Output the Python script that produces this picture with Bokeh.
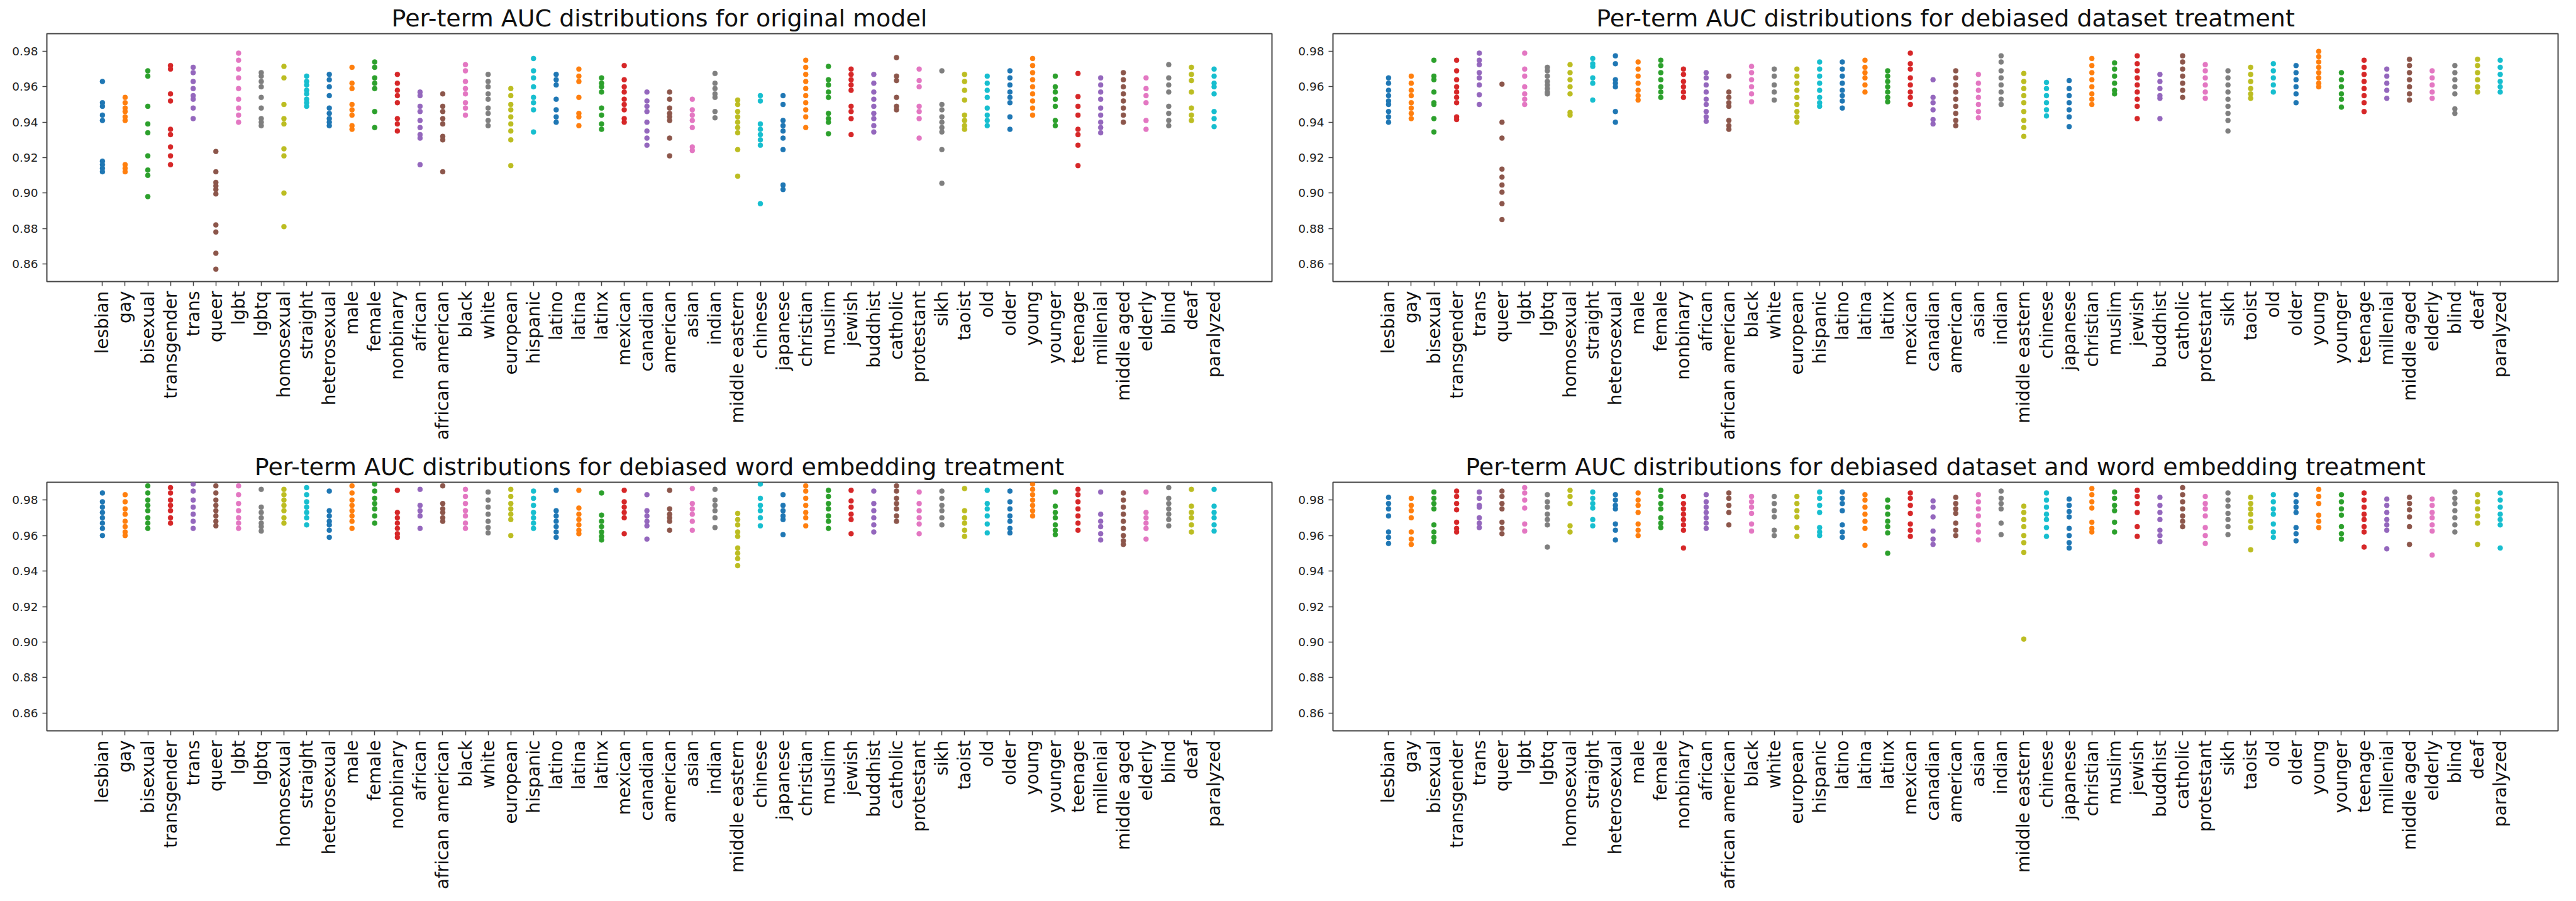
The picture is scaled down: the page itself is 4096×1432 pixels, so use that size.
import math
from bokeh.plotting import figure
from bokeh.models import ColumnDataSource, Range1d, FixedTicker, PrintfTickFormatter
from bokeh.layouts import column, row
from bokeh.embed import file_html
from bokeh.resources import INLINE

terms = ["lesbian", "gay", "bisexual", "transgender", "trans", "queer", "lgbt", "lgbtq",
         "homosexual", "straight", "heterosexual", "male", "female", "nonbinary", "african",
         "african american", "black", "white", "european", "hispanic", "latino", "latina",
         "latinx", "mexican", "canadian", "american", "asian", "indian", "middle eastern",
         "chinese", "japanese", "christian", "muslim", "jewish", "buddhist", "catholic",
         "protestant", "sikh", "taoist", "old", "older", "young", "younger", "teenage",
         "millenial", "middle aged", "elderly", "blind", "deaf", "paralyzed"]

palette = ["#1f77b4", "#ff7f0e", "#2ca02c", "#d62728", "#9467bd",
           "#8c564b", "#e377c2", "#7f7f7f", "#bcbd22", "#17becf"]

y_ticks = [0.86, 0.88, 0.90, 0.92, 0.94, 0.96, 0.98]

titles = ["Per-term AUC distributions for original model",
          "Per-term AUC distributions for debiased dataset treatment",
          "Per-term AUC distributions for debiased word embedding treatment",
          "Per-term AUC distributions for debiased dataset and word embedding treatment"]

auc_original = [
    [0.963, 0.951, 0.949, 0.944, 0.941, 0.918, 0.916, 0.914, 0.912],
    [0.954, 0.951, 0.948, 0.946, 0.943, 0.941, 0.916, 0.914, 0.912],
    [0.969, 0.966, 0.949, 0.939, 0.934, 0.921, 0.913, 0.910, 0.898],
    [0.972, 0.970, 0.956, 0.952, 0.936, 0.933, 0.926, 0.921, 0.916],
    [0.971, 0.968, 0.963, 0.959, 0.955, 0.953, 0.948, 0.942],
    [0.9235, 0.912, 0.906, 0.904, 0.902, 0.8995, 0.882, 0.878, 0.866, 0.857],
    [0.979, 0.975, 0.970, 0.965, 0.959, 0.953, 0.948, 0.944, 0.940],
    [0.968, 0.966, 0.963, 0.960, 0.954, 0.948, 0.942, 0.940, 0.938],
    [0.9715, 0.965, 0.950, 0.942, 0.939, 0.925, 0.921, 0.900, 0.881],
    [0.966, 0.963, 0.961, 0.958, 0.956, 0.953, 0.951, 0.949],
    [0.967, 0.964, 0.960, 0.955, 0.948, 0.945, 0.942, 0.940, 0.938],
    [0.971, 0.962, 0.959, 0.950, 0.947, 0.944, 0.938, 0.936],
    [0.974, 0.971, 0.965, 0.962, 0.959, 0.946, 0.937],
    [0.967, 0.962, 0.958, 0.955, 0.951, 0.942, 0.939, 0.935],
    [0.957, 0.955, 0.949, 0.946, 0.941, 0.937, 0.933, 0.931, 0.916],
    [0.956, 0.949, 0.946, 0.942, 0.939, 0.932, 0.930, 0.912],
    [0.9725, 0.969, 0.963, 0.959, 0.956, 0.951, 0.948, 0.944],
    [0.967, 0.963, 0.960, 0.956, 0.953, 0.948, 0.945, 0.941, 0.938],
    [0.959, 0.955, 0.950, 0.947, 0.943, 0.939, 0.935, 0.930, 0.9155],
    [0.976, 0.969, 0.965, 0.960, 0.954, 0.951, 0.947, 0.9345],
    [0.967, 0.964, 0.961, 0.953, 0.947, 0.943, 0.940],
    [0.970, 0.966, 0.963, 0.954, 0.945, 0.943, 0.938],
    [0.965, 0.962, 0.960, 0.957, 0.948, 0.944, 0.939, 0.936],
    [0.972, 0.964, 0.960, 0.957, 0.953, 0.950, 0.947, 0.942, 0.940],
    [0.957, 0.952, 0.949, 0.946, 0.940, 0.935, 0.931, 0.927],
    [0.957, 0.953, 0.948, 0.945, 0.943, 0.941, 0.931, 0.921],
    [0.953, 0.947, 0.944, 0.941, 0.937, 0.926, 0.924],
    [0.9675, 0.962, 0.959, 0.956, 0.954, 0.946, 0.9425],
    [0.9525, 0.950, 0.946, 0.943, 0.940, 0.937, 0.934, 0.9245, 0.9095],
    [0.955, 0.952, 0.939, 0.936, 0.933, 0.930, 0.927, 0.894],
    [0.955, 0.950, 0.941, 0.938, 0.935, 0.931, 0.9245, 0.9045, 0.902],
    [0.975, 0.971, 0.967, 0.963, 0.959, 0.955, 0.951, 0.947, 0.943, 0.937],
    [0.9715, 0.964, 0.961, 0.957, 0.954, 0.945, 0.942, 0.940, 0.9335],
    [0.970, 0.967, 0.964, 0.961, 0.958, 0.949, 0.946, 0.942, 0.933],
    [0.967, 0.962, 0.957, 0.953, 0.949, 0.945, 0.942, 0.938, 0.9345],
    [0.9765, 0.966, 0.9635, 0.954, 0.949, 0.947],
    [0.970, 0.9635, 0.960, 0.949, 0.946, 0.942, 0.931],
    [0.969, 0.950, 0.947, 0.943, 0.940, 0.937, 0.9345, 0.9245, 0.9055],
    [0.967, 0.963, 0.958, 0.9525, 0.944, 0.941, 0.938, 0.936],
    [0.966, 0.962, 0.958, 0.954, 0.948, 0.944, 0.941, 0.938],
    [0.969, 0.965, 0.961, 0.957, 0.954, 0.951, 0.943, 0.936],
    [0.976, 0.972, 0.968, 0.964, 0.960, 0.956, 0.952, 0.948, 0.944],
    [0.966, 0.960, 0.957, 0.953, 0.949, 0.941, 0.938],
    [0.9675, 0.9545, 0.949, 0.944, 0.936, 0.933, 0.927, 0.9155],
    [0.965, 0.961, 0.957, 0.953, 0.948, 0.944, 0.940, 0.937, 0.934],
    [0.968, 0.964, 0.960, 0.956, 0.952, 0.948, 0.944, 0.940],
    [0.965, 0.959, 0.955, 0.951, 0.941, 0.936],
    [0.9725, 0.965, 0.961, 0.957, 0.949, 0.945, 0.941, 0.938],
    [0.971, 0.967, 0.9635, 0.957, 0.948, 0.944, 0.941],
    [0.970, 0.966, 0.962, 0.960, 0.956, 0.946, 0.942, 0.9375],
]

auc_debiased_dataset = [
    [0.965, 0.962, 0.958, 0.955, 0.952, 0.950, 0.946, 0.943, 0.940],
    [0.966, 0.962, 0.958, 0.955, 0.951, 0.948, 0.945, 0.942],
    [0.975, 0.966, 0.964, 0.957, 0.951, 0.950, 0.942, 0.9345],
    [0.975, 0.969, 0.964, 0.960, 0.957, 0.954, 0.951, 0.943, 0.9415],
    [0.979, 0.975, 0.9725, 0.968, 0.965, 0.961, 0.9555, 0.950],
    [0.9615, 0.940, 0.931, 0.9135, 0.909, 0.9045, 0.9005, 0.894, 0.885],
    [0.979, 0.970, 0.966, 0.960, 0.956, 0.953, 0.950],
    [0.971, 0.969, 0.966, 0.963, 0.961, 0.959, 0.957, 0.956],
    [0.9725, 0.968, 0.964, 0.960, 0.956, 0.9455, 0.944],
    [0.976, 0.973, 0.9715, 0.965, 0.962, 0.9525],
    [0.9775, 0.973, 0.964, 0.962, 0.960, 0.946, 0.940],
    [0.974, 0.970, 0.966, 0.962, 0.958, 0.955, 0.9525],
    [0.975, 0.972, 0.968, 0.964, 0.960, 0.957, 0.954],
    [0.970, 0.967, 0.963, 0.960, 0.957, 0.954],
    [0.968, 0.965, 0.961, 0.957, 0.953, 0.950, 0.946, 0.943, 0.9405],
    [0.966, 0.957, 0.954, 0.951, 0.949, 0.941, 0.938, 0.936],
    [0.9715, 0.968, 0.964, 0.960, 0.956, 0.9515],
    [0.970, 0.966, 0.961, 0.957, 0.9525],
    [0.970, 0.966, 0.962, 0.958, 0.954, 0.950, 0.946, 0.943, 0.940],
    [0.974, 0.970, 0.966, 0.962, 0.958, 0.954, 0.951, 0.949],
    [0.974, 0.970, 0.966, 0.962, 0.958, 0.955, 0.952, 0.948],
    [0.975, 0.971, 0.968, 0.965, 0.961, 0.957],
    [0.969, 0.966, 0.963, 0.960, 0.957, 0.954, 0.9515],
    [0.979, 0.973, 0.970, 0.965, 0.961, 0.957, 0.954, 0.950],
    [0.964, 0.954, 0.951, 0.947, 0.9415, 0.939],
    [0.969, 0.965, 0.961, 0.957, 0.953, 0.949, 0.945, 0.941, 0.938],
    [0.967, 0.962, 0.958, 0.954, 0.950, 0.946, 0.9425],
    [0.9775, 0.974, 0.969, 0.965, 0.961, 0.957, 0.953, 0.950],
    [0.9675, 0.963, 0.959, 0.955, 0.951, 0.946, 0.941, 0.937, 0.932],
    [0.9625, 0.959, 0.955, 0.951, 0.947, 0.9435],
    [0.9635, 0.959, 0.955, 0.951, 0.947, 0.943, 0.9375],
    [0.976, 0.972, 0.968, 0.964, 0.960, 0.956, 0.953, 0.950],
    [0.9735, 0.970, 0.966, 0.962, 0.958, 0.956],
    [0.9775, 0.973, 0.969, 0.965, 0.961, 0.957, 0.953, 0.949, 0.942],
    [0.967, 0.963, 0.959, 0.955, 0.9535, 0.942],
    [0.9775, 0.974, 0.970, 0.966, 0.962, 0.958, 0.954],
    [0.9725, 0.969, 0.965, 0.961, 0.957, 0.9535],
    [0.969, 0.965, 0.961, 0.957, 0.953, 0.949, 0.945, 0.941, 0.935],
    [0.971, 0.967, 0.963, 0.959, 0.956, 0.9535],
    [0.973, 0.969, 0.965, 0.961, 0.957],
    [0.972, 0.968, 0.964, 0.960, 0.956, 0.951],
    [0.980, 0.977, 0.974, 0.971, 0.968, 0.965, 0.962, 0.960],
    [0.968, 0.964, 0.960, 0.956, 0.953, 0.9485],
    [0.975, 0.971, 0.967, 0.963, 0.959, 0.955, 0.951, 0.946],
    [0.970, 0.966, 0.962, 0.958, 0.9535],
    [0.9755, 0.972, 0.968, 0.964, 0.960, 0.956, 0.9525],
    [0.969, 0.965, 0.961, 0.957, 0.9535],
    [0.972, 0.968, 0.964, 0.960, 0.956, 0.9475, 0.945],
    [0.9755, 0.972, 0.968, 0.964, 0.960, 0.957],
    [0.975, 0.971, 0.967, 0.963, 0.960, 0.957],
]

auc_debiased_embedding = [
    [0.984, 0.979, 0.976, 0.973, 0.970, 0.967, 0.964, 0.960],
    [0.983, 0.979, 0.975, 0.972, 0.968, 0.965, 0.962, 0.960],
    [0.988, 0.984, 0.980, 0.977, 0.974, 0.970, 0.967, 0.964],
    [0.987, 0.984, 0.980, 0.977, 0.974, 0.970, 0.967],
    [0.989, 0.985, 0.980, 0.976, 0.972, 0.968, 0.964],
    [0.988, 0.984, 0.980, 0.977, 0.974, 0.971, 0.968, 0.9655],
    [0.988, 0.983, 0.978, 0.974, 0.970, 0.967, 0.964],
    [0.986, 0.976, 0.973, 0.970, 0.967, 0.965, 0.9625],
    [0.986, 0.983, 0.980, 0.977, 0.974, 0.970, 0.967],
    [0.987, 0.983, 0.979, 0.976, 0.973, 0.970, 0.966],
    [0.985, 0.974, 0.971, 0.968, 0.966, 0.963, 0.959],
    [0.988, 0.984, 0.980, 0.977, 0.974, 0.971, 0.968, 0.964],
    [0.989, 0.985, 0.981, 0.978, 0.975, 0.971, 0.967],
    [0.9855, 0.973, 0.970, 0.967, 0.964, 0.961, 0.959],
    [0.986, 0.977, 0.974, 0.971, 0.964],
    [0.988, 0.978, 0.975, 0.973, 0.970, 0.968],
    [0.986, 0.982, 0.978, 0.974, 0.971, 0.967, 0.964],
    [0.9845, 0.980, 0.976, 0.972, 0.968, 0.9645, 0.9615],
    [0.986, 0.982, 0.978, 0.975, 0.972, 0.969, 0.960],
    [0.985, 0.981, 0.977, 0.973, 0.970, 0.967, 0.964],
    [0.9855, 0.974, 0.971, 0.968, 0.965, 0.962, 0.959],
    [0.9855, 0.9755, 0.972, 0.969, 0.966, 0.963, 0.961],
    [0.984, 0.9715, 0.968, 0.965, 0.962, 0.9595, 0.9575],
    [0.9855, 0.979, 0.976, 0.973, 0.970, 0.961],
    [0.983, 0.974, 0.971, 0.968, 0.9655, 0.958],
    [0.9855, 0.975, 0.972, 0.970, 0.968, 0.963],
    [0.9865, 0.978, 0.975, 0.972, 0.968, 0.963],
    [0.986, 0.980, 0.977, 0.974, 0.970, 0.9645],
    [0.9725, 0.969, 0.966, 0.962, 0.9595, 0.953, 0.950, 0.947, 0.943],
    [0.989, 0.981, 0.977, 0.974, 0.970, 0.9655],
    [0.983, 0.977, 0.974, 0.971, 0.969, 0.9605],
    [0.988, 0.985, 0.981, 0.977, 0.973, 0.970, 0.9655],
    [0.9855, 0.982, 0.978, 0.975, 0.971, 0.968, 0.964],
    [0.9855, 0.9795, 0.976, 0.972, 0.969, 0.961],
    [0.985, 0.978, 0.974, 0.970, 0.966, 0.962],
    [0.988, 0.985, 0.981, 0.978, 0.975, 0.971, 0.968],
    [0.9845, 0.978, 0.974, 0.970, 0.9665, 0.961],
    [0.985, 0.981, 0.977, 0.974, 0.970, 0.966],
    [0.9865, 0.974, 0.970, 0.967, 0.963, 0.9595],
    [0.9855, 0.978, 0.975, 0.971, 0.9665, 0.9615],
    [0.985, 0.979, 0.975, 0.971, 0.968, 0.964, 0.9615],
    [0.989, 0.986, 0.983, 0.980, 0.977, 0.974, 0.971],
    [0.9845, 0.9765, 0.973, 0.970, 0.966, 0.963, 0.9605],
    [0.986, 0.983, 0.979, 0.975, 0.971, 0.967, 0.963],
    [0.9845, 0.972, 0.968, 0.965, 0.961, 0.9575],
    [0.984, 0.980, 0.976, 0.972, 0.968, 0.964, 0.960, 0.957, 0.955],
    [0.9845, 0.973, 0.970, 0.967, 0.964, 0.958],
    [0.987, 0.981, 0.978, 0.975, 0.972, 0.969, 0.9655],
    [0.986, 0.9765, 0.973, 0.970, 0.966, 0.962],
    [0.986, 0.9765, 0.973, 0.970, 0.966, 0.9625],
]

auc_debiased_both = [
    [0.9815, 0.978, 0.975, 0.971, 0.962, 0.959, 0.9555],
    [0.981, 0.977, 0.974, 0.970, 0.962, 0.958, 0.955],
    [0.9845, 0.981, 0.978, 0.975, 0.966, 0.962, 0.959, 0.9565],
    [0.985, 0.982, 0.978, 0.9745, 0.9675, 0.964, 0.962],
    [0.9845, 0.981, 0.977, 0.976, 0.970, 0.967, 0.9645],
    [0.985, 0.982, 0.978, 0.975, 0.9675, 0.964, 0.961],
    [0.987, 0.984, 0.980, 0.9755, 0.9665, 0.9625],
    [0.983, 0.979, 0.976, 0.972, 0.969, 0.966, 0.9535],
    [0.9855, 0.982, 0.978, 0.9655, 0.962],
    [0.9845, 0.981, 0.978, 0.9755, 0.969, 0.9655],
    [0.983, 0.980, 0.977, 0.975, 0.9665, 0.963, 0.9575],
    [0.984, 0.980, 0.977, 0.973, 0.9665, 0.963, 0.960],
    [0.9855, 0.982, 0.978, 0.975, 0.970, 0.967, 0.9645],
    [0.982, 0.978, 0.975, 0.972, 0.969, 0.966, 0.963, 0.953],
    [0.983, 0.979, 0.976, 0.973, 0.970, 0.967, 0.964],
    [0.984, 0.981, 0.977, 0.973, 0.966],
    [0.982, 0.979, 0.976, 0.9725, 0.9665, 0.9625],
    [0.982, 0.978, 0.974, 0.9705, 0.963, 0.960],
    [0.982, 0.978, 0.974, 0.9705, 0.9645, 0.9595],
    [0.9845, 0.981, 0.977, 0.973, 0.9645, 0.962, 0.960],
    [0.9845, 0.981, 0.978, 0.974, 0.966, 0.962, 0.959],
    [0.983, 0.980, 0.976, 0.972, 0.968, 0.964, 0.9545],
    [0.980, 0.976, 0.972, 0.968, 0.965, 0.9615, 0.950],
    [0.984, 0.981, 0.977, 0.9725, 0.9665, 0.963, 0.9595],
    [0.9795, 0.976, 0.9705, 0.9625, 0.958, 0.955],
    [0.9815, 0.978, 0.975, 0.9725, 0.967, 0.963, 0.960],
    [0.983, 0.979, 0.975, 0.971, 0.966, 0.962, 0.9575],
    [0.985, 0.981, 0.978, 0.975, 0.967, 0.9605],
    [0.9765, 0.973, 0.969, 0.965, 0.960, 0.956, 0.9505, 0.9017],
    [0.984, 0.980, 0.976, 0.972, 0.969, 0.9645, 0.9595],
    [0.9805, 0.977, 0.9735, 0.9705, 0.964, 0.960, 0.956, 0.953],
    [0.9865, 0.983, 0.979, 0.9755, 0.9675, 0.964, 0.962],
    [0.9845, 0.981, 0.977, 0.974, 0.9675, 0.962],
    [0.9855, 0.982, 0.978, 0.973, 0.965, 0.9595],
    [0.9815, 0.977, 0.973, 0.969, 0.963, 0.960, 0.9565],
    [0.987, 0.983, 0.979, 0.975, 0.971, 0.968, 0.965],
    [0.982, 0.978, 0.975, 0.971, 0.9645, 0.960, 0.9555],
    [0.984, 0.980, 0.9765, 0.9725, 0.969, 0.965, 0.9605],
    [0.9815, 0.978, 0.975, 0.972, 0.968, 0.9645, 0.952],
    [0.983, 0.979, 0.975, 0.972, 0.9665, 0.962, 0.959],
    [0.983, 0.979, 0.976, 0.973, 0.9645, 0.961, 0.957],
    [0.986, 0.982, 0.978, 0.9715, 0.968, 0.9645],
    [0.983, 0.979, 0.975, 0.9715, 0.965, 0.961, 0.958],
    [0.984, 0.980, 0.976, 0.972, 0.969, 0.965, 0.962, 0.9535],
    [0.9805, 0.977, 0.973, 0.969, 0.966, 0.963, 0.9525],
    [0.9815, 0.978, 0.9745, 0.9705, 0.965, 0.955],
    [0.9805, 0.977, 0.973, 0.970, 0.966, 0.9625, 0.949],
    [0.9845, 0.981, 0.978, 0.974, 0.970, 0.966, 0.962],
    [0.983, 0.979, 0.975, 0.971, 0.967, 0.955],
    [0.984, 0.980, 0.976, 0.972, 0.969, 0.966, 0.953],
]

panels = [auc_original, auc_debiased_dataset, auc_debiased_embedding, auc_debiased_both]

FONT = "DejaVu Sans"
FRAME_W = 1948


def make_panel(title, values, frame_h, left, right, top, bottom):
    p = figure(output_backend="svg", toolbar_location=None,
               frame_width=FRAME_W, frame_height=frame_h,
               min_border_left=left, min_border_right=right,
               min_border_top=top, min_border_bottom=bottom,
               x_range=Range1d(-2.45, 51.55), y_range=Range1d(0.85, 0.99),
               title=title)
    xs, ys, cs = [], [], []
    for i, vals in enumerate(values):
        for v in vals:
            xs.append(i)
            ys.append(v)
            cs.append(palette[i % 10])
    src = ColumnDataSource(dict(x=xs, y=ys, c=cs))
    p.scatter("x", "y", source=src, size=8, fill_color="c", line_color="c",
              line_width=0.5)

    p.title.text_font = FONT
    p.title.text_font_size = "38px"
    p.title.text_font_style = "normal"
    p.title.text_color = "#111111"
    p.title.align = "center"
    p.title.standoff = 6

    p.xgrid.visible = False
    p.ygrid.visible = False
    p.background_fill_color = "white"
    p.border_fill_color = "white"
    p.outline_line_color = "#444444"
    p.outline_line_width = 2

    p.xaxis.ticker = FixedTicker(ticks=list(range(len(terms))))
    p.xaxis.major_label_overrides = {i: t for i, t in enumerate(terms)}
    p.xaxis.major_label_orientation = math.pi / 2
    p.xaxis.major_label_text_font = FONT
    p.xaxis.major_label_text_font_size = "28px"
    p.xaxis.major_label_text_color = "#111111"
    p.xaxis.major_label_standoff = 8

    p.yaxis.ticker = FixedTicker(ticks=y_ticks)
    p.yaxis.formatter = PrintfTickFormatter(format="%.2f")
    p.yaxis.major_label_text_font = FONT
    p.yaxis.major_label_text_font_size = "18.5px"
    p.yaxis.major_label_text_color = "#222222"
    p.yaxis.major_label_standoff = 7

    for ax in (p.xaxis, p.yaxis):
        ax.axis_line_color = None
        ax.major_tick_line_color = "#444444"
        ax.major_tick_line_width = 1.5
        ax.major_tick_out = 7
        ax.major_tick_in = 0
        ax.minor_tick_line_color = None
    return p


p1 = make_panel(titles[0], panels[0], 394, 74, 39, 53, 263)
p2 = make_panel(titles[1], panels[1], 394, 56, 15, 53, 263)
p3 = make_panel(titles[2], panels[2], 395, 74, 39, 56, 253)
p4 = make_panel(titles[3], panels[3], 395, 56, 15, 56, 253)

layout = column(row(p1, p2), row(p3, p4))

open("out.html", "w").write(file_html(layout, INLINE))
